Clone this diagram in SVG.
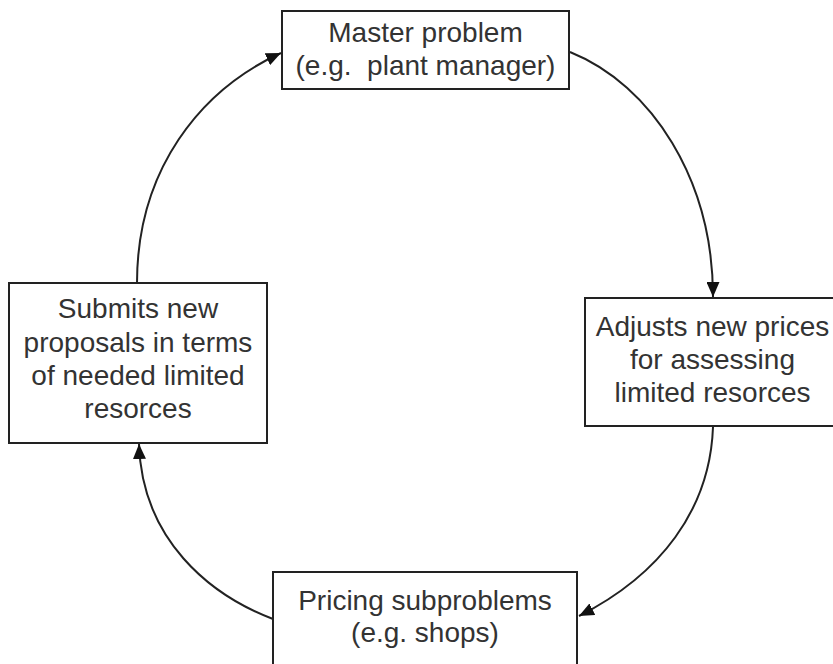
<svg xmlns="http://www.w3.org/2000/svg" width="833" height="664" viewBox="0 0 833 664">
<style>
.box{fill:#fff;stroke:#222;stroke-width:2}
.t{font-family:"Liberation Sans",Arial,sans-serif;font-size:28px;fill:#333;text-anchor:middle}
.c{fill:none;stroke:#222;stroke-width:2}
</style>
<defs>
<marker id="ah" viewBox="0 0 15 13" refX="15" refY="6.5" markerWidth="15" markerHeight="13" markerUnits="userSpaceOnUse" orient="auto">
<path d="M0,0 L15,6.5 L0,13 Z" fill="#111"/>
</marker>
</defs>
<rect width="833" height="664" fill="#fff"/>
<g id="connectors">
<path class="c" d="M570,52 C652,85 713,180 713,297" marker-end="url(#ah)"/>
<path class="c" d="M713,427 C710,510 660,575 579,616" marker-end="url(#ah)"/>
<path class="c" d="M273,619 C210,595 142,540 139,444" marker-end="url(#ah)"/>
<path class="c" d="M137,283 C137,170 200,90 281,53" marker-end="url(#ah)"/>
</g>
<g id="master">
<rect class="box" x="282" y="11" width="287" height="78"/>
<text class="t" x="425.5" y="42">Master problem</text>
<text class="t" x="425.5" y="75" xml:space="preserve">(e.g.  plant manager)</text>
</g>
<g id="adjusts">
<rect class="box" x="585" y="298" width="260" height="128"/>
<text class="t" x="712.5" y="336">Adjusts new prices</text>
<text class="t" x="712.5" y="369">for assessing</text>
<text class="t" x="712.5" y="402">limited resorces</text>
</g>
<g id="pricing">
<rect class="box" x="273" y="572" width="304" height="110"/>
<text class="t" x="425" y="610">Pricing subproblems</text>
<text class="t" x="425" y="642">(e.g. shops)</text>
</g>
<g id="submits">
<rect class="box" x="9" y="283" width="258" height="160"/>
<text class="t" x="138" y="318">Submits new</text>
<text class="t" x="138" y="351.5">proposals in terms</text>
<text class="t" x="138" y="385">of needed limited</text>
<text class="t" x="138" y="418">resorces</text>
</g>
</svg>
